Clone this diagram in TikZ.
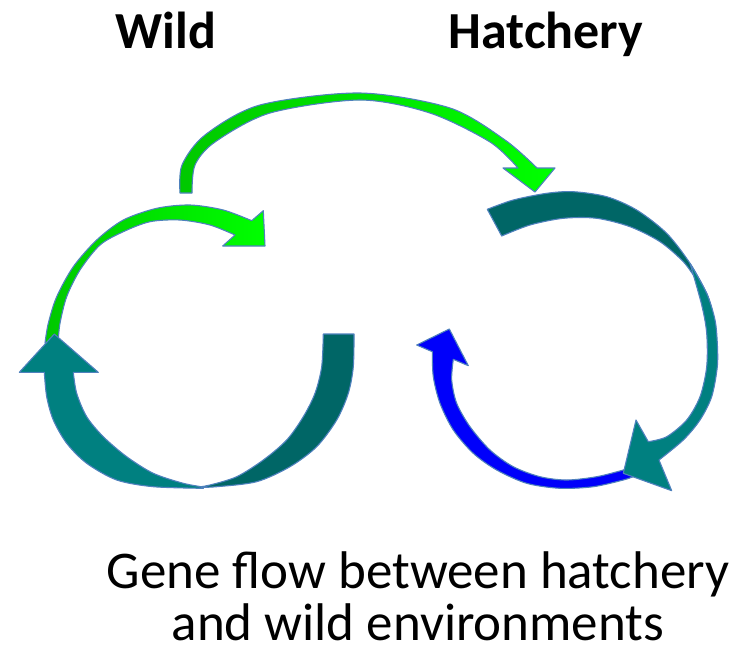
\documentclass[tikz,border=0pt]{standalone}
\usepackage{fontspec}
\setmainfont{Carlito}
\definecolor{olc}{RGB}{79,129,189}
\definecolor{tealdark}{RGB}{0,102,102}
\definecolor{teallight}{RGB}{0,128,128}
\definecolor{gbright}{RGB}{0,255,0}
\definecolor{gdark}{RGB}{0,200,0}
\definecolor{bblue}{RGB}{0,0,250}
\tikzset{
  shp/.style={draw=olc, line width=1.1pt, line join=round},
  lbl/.style={font=\bfseries\fontsize{52}{52}\selectfont, anchor=base, inner sep=0pt},
  capt/.style={font=\fontsize{53}{53}\selectfont, anchor=base, inner sep=0pt}
}
\begin{document}
\begin{tikzpicture}[x=1pt,y=-1pt]
\useasboundingbox (0,0) rectangle (744,654);
% left green arrow
\path[shp, left color=gdark, right color=gbright]
  plot[smooth] coordinates {(45,343) (48.3,323.3) (56.7,296.7) (73.3,266.7) (96.7,240) (123.3,220) (156.7,208.3) (190,205) (223.3,210) (251.7,220.7)}
  -- (263.3,210.7) -- (265,246) -- (222.7,246) -- (235,235)
  -- plot[smooth] coordinates {(235,235) (210,225) (180,220) (150,221.7) (123.3,231.7) (100,245) (80,270) (66.7,296.7) (60,323.3) (58.3,340)}
  -- cycle;
% left teal dark part
\path[shp, fill=tealdark]
  plot[smooth] coordinates {(354,334) (353.3,366.7) (348.3,393.3) (336.7,420) (316.7,446.7) (290,466.7) (256.7,481.7) (216.7,486.7) (195,487.5)}
  -- plot[smooth] coordinates {(195,487.5) (210,485) (236.7,476.7) (263.3,460) (286.7,440) (303.3,416.7) (315,393.3) (321.7,366.7) (323.3,334)}
  -- cycle;
% left teal light part with head
\path[shp, fill=teallight]
  plot[smooth] coordinates {(203.3,488.3) (153.3,486.7) (116.7,480) (86.7,463.3) (66.7,443.3) (53.3,420) (46.7,396.7) (44.3,372.3)}
  -- (19.3,372.3) -- (54.3,334) -- (98.3,372.3) -- (73.3,372.3)
  -- plot[smooth] coordinates {(73.3,372.3) (76.7,393.3) (86.7,416.7) (103.3,436.7) (126.7,456.7) (153.3,473.3) (183.3,483.3) (203.3,487)}
  -- cycle;
% blue arrow
\path[shp, fill=bblue]
  plot[smooth] coordinates {(635,476) (623.3,480) (593.3,486.7) (560,488.3) (526.7,483.3) (496.7,470) (473.3,453.3) (453.3,430) (440,403.3) (433.3,376.7) (432.3,351.7)}
  -- (416.7,345) -- (449.3,329) -- (468.3,365.7) -- (453.3,359.3)
  -- plot[smooth] coordinates {(453.3,359.3) (451.7,380) (456.7,403.3) (470,426.7) (490,450) (513.3,466.7) (540,476.7) (566.7,480) (596.7,476.7) (623.3,470) (635,466)}
  -- cycle;
% right teal dark part
\path[shp, fill=tealdark]
  plot[smooth] coordinates {(487.3,209.3) (513.3,200) (546.7,193.3) (573.3,191.7) (606.7,196.7) (636.7,210) (666.7,233.3) (690,263.3) (706.7,293.3) (712,310)}
  -- plot[smooth] coordinates {(712,310) (706.7,293.3) (696.7,280) (683.3,261.7) (660,241.7) (630,226.7) (596.7,218.3) (563.3,218.3) (530,225) (501.7,236)}
  -- cycle;
% right teal light part with head
\path[shp, fill=teallight]
  plot[smooth] coordinates {(690,263.3) (706.7,293.3) (715,320) (717.3,343.3) (717.3,366.7) (711.7,396.7) (700,420) (683.3,440) (659,460)}
  -- (671.7,490.7) -- (623.3,473.3) -- (636,420) -- (648.3,441.7)
  -- plot[smooth] coordinates {(648.3,441.7) (666.7,436.7) (686.7,420) (700,396.7) (706.7,366.7) (706.7,333.3) (701.7,305) (690,263.3)}
  -- cycle;
% top green arrow
\path[shp, left color=gdark, right color=gbright]
  plot[smooth] coordinates {(180,193) (182,165) (205,135) (260,105) (360,93) (450,108) (505,140) (537,168)}
  -- (555,168) -- (535,192) -- (503,168) -- (518,168)
  -- plot[smooth] coordinates {(518,168) (490,142) (430,113) (360,100) (270,113) (215,142) (195,165) (192,193)}
  -- cycle;
% labels
\node[lbl] (wild) at (166,48) {Wild};
\node[lbl] (hatch) at (546,48) {Hatchery};
\node[capt] (cap1) at (418,588) {Gene flow between hatchery};
\node[capt] (cap2) at (418,640) {and wild environments};
\end{tikzpicture}
\end{document}
